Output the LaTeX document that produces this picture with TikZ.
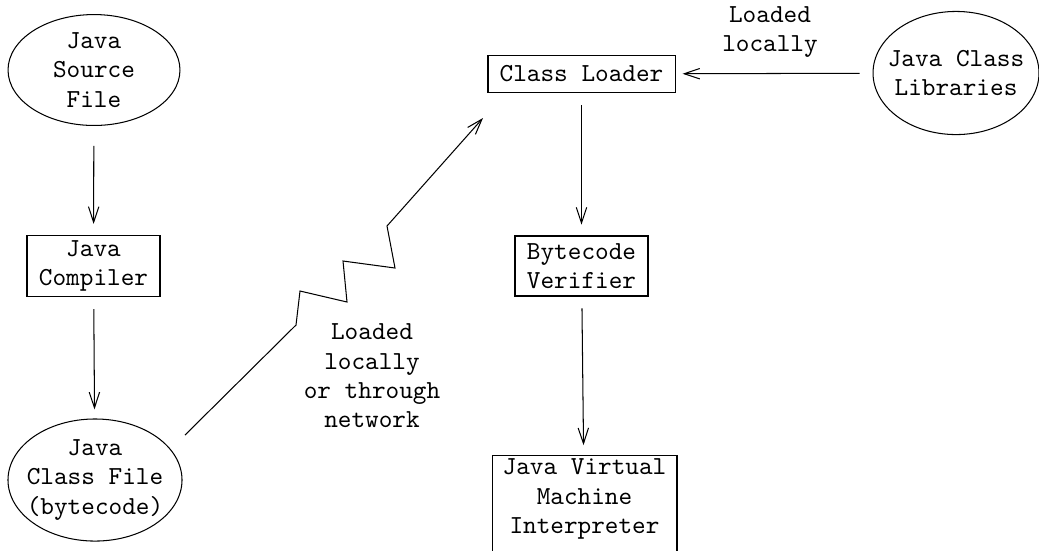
\documentclass[tikz,border=0pt]{standalone}
\usepackage{tikz}
\usetikzlibrary{arrows.meta,shapes.geometric}

\begin{document}
\begin{tikzpicture}[x=0.385pt, y=-0.385pt,
    every node/.style={font=\ttfamily\fontsize{10}{11.3}\selectfont, align=center},
    oval/.style={draw, ellipse, inner xsep=-8pt, inner ysep=-6pt},
    box/.style={draw, rectangle, inner sep=2pt},
    >={Straight Barb[length=6pt,width=4pt]},
    flow/.style={->, shorten <=4.6pt, shorten >=4.2pt}]
    \useasboundingbox (0,0) rectangle (1039,550);

    % Compile side
    \node[oval, minimum width=66.2pt, minimum height=42.7pt] (src) at (94,70) {Java\\Source\\File};
    \node[box, minimum width=51.2pt, minimum height=23.1pt] (cmp) at (93.5,266) {Java\\Compiler};
    \node[oval, minimum width=67pt, minimum height=47pt] (cfile) at (95,480) {Java\\Class File\\(bytecode)};

    % Run side
    \node[box, minimum width=72pt, minimum height=14.6pt] (loader) at (581.5,74) {Class Loader};
    \node[box, minimum width=51.2pt, minimum height=23.1pt] (verif) at (581.5,266) {Bytecode\\Verifier};
    \node[box, minimum width=71.2pt, minimum height=60pt, anchor=north] (jvm) at (584.5,455) {};
    \node (jvmtext) at (584.5,499) {Java Virtual\\Machine\\Interpreter};
    \node[oval, minimum width=63.9pt, minimum height=47.4pt] (libs) at (956,73) {Java Class\\Libraries};

    % Labels
    \node (lbllocal) at (770,32) {Loaded\\locally};
    \node (lblnet) at (372,376) {Loaded\\locally\\or through\\network};

    % Arrows
    \draw[flow, shorten <=7.7pt] (src) -- (cmp);
    \draw[flow, shorten >=3.5pt] (cmp) -- (cfile);
    \draw[flow] (loader) -- (verif);
    \draw[flow, shorten >=3.8pt] (verif) -- (jvm);
    \draw[flow, shorten <=5pt, shorten >=2.7pt] (libs) -- (loader);

    % Network path (zigzag)
    \coordinate (netstart) at (185,435);
    \coordinate (netend) at (483,118);
    \draw[->] (netstart) -- (296,325) -- (300,291) -- (347,302) -- (343,261)
        -- (395,268) -- (387,226) -- (netend);
\end{tikzpicture}
\end{document}
